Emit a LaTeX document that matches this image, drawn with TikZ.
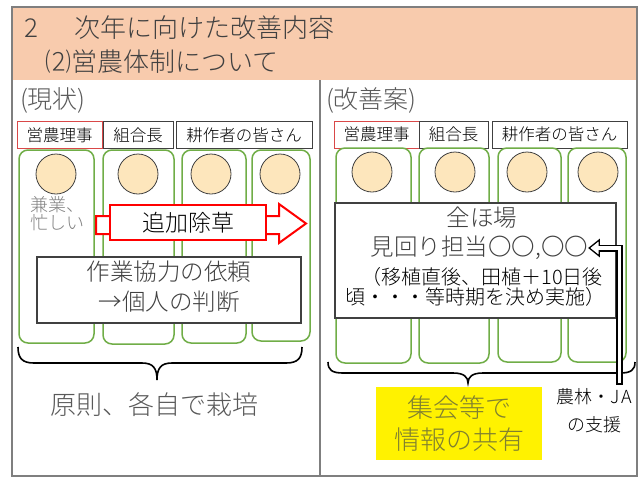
\documentclass[tikz,border=0pt]{standalone}
\usepackage{fontspec}
\setmainfont{Noto Sans CJK JP Light}
\usetikzlibrary{arrows.meta,calc}
\definecolor{hdr}{HTML}{F8CBAD}
\definecolor{framegray}{HTML}{7F7F7F}
\definecolor{hdrtext}{HTML}{404040}
\definecolor{grayfive}{HTML}{595959}
\definecolor{grayeight}{HTML}{808080}
\definecolor{colgreen}{HTML}{70AD47}
\definecolor{circfill}{HTML}{FDE6BC}
\definecolor{tagred}{HTML}{D94848}
\definecolor{boxdark}{HTML}{404040}
\definecolor{olivetext}{HTML}{808030}
\newcommand\setfs[2]{\fontsize{#1}{#2}\selectfont}
\begin{document}
\begin{tikzpicture}[x=1pt,y=-1pt,
  every node/.style={inner sep=0pt, outer sep=0pt},
  frame/.style={draw=framegray, line width=1.5pt},
  tagbox/.style={draw=boxdark, line width=1pt, fill=white, minimum height=27pt, font=\setfs{16.5}{20}},
  tagredbox/.style={tagbox, draw=tagred},
  col/.style={draw=colgreen, line width=1.5pt, rounded corners=9pt},
  person/.style={circle, draw=boxdark, line width=0.8pt, fill=circfill, minimum size=40pt},
  textbox/.style={draw=boxdark, line width=1.3pt, fill=white},
  bracepath/.style={draw=black, line width=1.6pt},
  redarrow/.style={draw=red, line width=2pt, fill=white, line join=miter}
]
\useasboundingbox (0,0) rectangle (642,477);
% header and frame
\fill[hdr] (12,7) rectangle (637,80);
\draw[framegray, line width=1.2pt] (320,80) -- (320,476);
\draw[frame] (12,7) rectangle (637,476);
\node[anchor=west, font=\setfs{26}{31}, text=hdrtext] (title1) at (24,28) {2\hspace{37pt}次年に向けた改善内容};
\node[anchor=west, font=\setfs{26}{31}, text=hdrtext] (title2) at (45,62) {⑵営農体制について};
\node[anchor=west, font=\setfs{25}{30}, text=grayfive] (genjo) at (20,100) {(現状)};
\node[anchor=west, font=\setfs{25}{30}, text=grayfive] (kaizen) at (326,100) {(改善案)};
% ---------- left: current state ----------
\node[tagredbox, minimum width=85pt] (lt1) at (59.5,135) {営農理事};
\node[tagbox, minimum width=70pt] (lt2) at (138,135) {組合長};
\node[tagbox, minimum width=136pt] (lt3) at (244,135) {耕作者の皆さん};
\draw[col] (19,150) rectangle (94,343);
\draw[col] (103,150) rectangle (174,344);
\draw[col] (182,150) rectangle (246,343);
\draw[col] (252,150) rectangle (310,341);
\node[person] (lp1) at (56,174) {};
\node[person] (lp2) at (138,174) {};
\node[person] (lp3) at (211,174) {};
\node[person] (lp4) at (280,174) {};
\node[align=left, font=\setfs{18}{18}, text=grayeight] (kengyo) at (57,214) {兼業、\\忙しい};
\draw[redarrow] (96,216) -- (279,216) -- (279,204) -- (306,223.5) -- (279,243) -- (279,234) -- (96,234) -- cycle;
\node[draw=red, line width=1.2pt, fill=white, minimum width=156pt, minimum height=35pt, font=\setfs{23}{28}] (tsuika) at (188,222.5) {追加除草};
\node[textbox, minimum width=264pt, minimum height=66pt] (kyoryoku) at (169,290) {};
\node[align=center, font=\setfs{23.5}{30}, text=hdrtext] (kyoryokutext) at (169,287) {作業協力の依頼\\→個人の判断};
\draw[bracepath] (18,347) .. controls (18,358) and (22,363) .. (34,363) -- (142,363)
  .. controls (153,363) and (157,368) .. (157,380)
  .. controls (157,368) and (161,363) .. (172,363) -- (286,363)
  .. controls (298,363) and (302,358) .. (302,347);
\node[font=\setfs{26}{31}, text=grayfive] (gensoku) at (154,405) {原則、各自で栽培};
% ---------- right: proposal ----------
\node[tagredbox, minimum width=85pt] (rt1) at (376.5,134.5) {営農理事};
\node[tagbox, minimum width=69pt] (rt2) at (453.5,134.5) {組合長};
\node[tagbox, minimum width=135pt] (rt3) at (559.5,134.5) {耕作者の皆さん};
\draw[col] (336,148) rectangle (411,363);
\draw[col] (419,148) rectangle (489,363);
\draw[col] (498,148) rectangle (561,362);
\draw[col] (568,148) rectangle (626,362);
\node[person] (rp1) at (372,172) {};
\node[person] (rp2) at (455,172) {};
\node[person] (rp3) at (527,172) {};
\node[person] (rp4) at (598,172) {};
\node[textbox, minimum width=281pt, minimum height=115pt] (plan) at (475.5,260.5) {};
\node[font=\setfs{23.5}{28}, text=hdrtext] (zenpo) at (482,218) {全ほ場};
\node[font=\setfs{23.5}{28}, text=hdrtext] (mimawari) at (479.5,248) {見回り担当〇〇,〇〇};
\node[font=\setfs{20}{24}, text=black] (jiki1) at (482,277) {（移植直後、田植＋10日後};
\node[font=\setfs{20}{24}, text=black] (jiki2) at (475,297) {頃・・・等時期を決め実施）};
\draw[bracepath] (328,362) .. controls (328,370) and (332,373) .. (343,373) -- (453,373)
  .. controls (464,373) and (468,377) .. (468,383)
  .. controls (468,377) and (472,373) .. (483,373) -- (620,373)
  .. controls (631,373) and (635,370) .. (635,362);
\node[fill=yellow, minimum width=166pt, minimum height=73pt, align=center,
      font=\setfs{26}{32}, text=olivetext] (share) at (459,423.5) {集会等で\\情報の共有};
\node[align=center, font=\setfs{18}{28}, text=black] (ja) at (594,411) {農林・J\hspace{2pt}A\\の支援};
% JA support arrow (double-lined)
\coordinate (jafoot) at (619.5,385);
\coordinate (headbase) at ($(mimawari.east)+(11,0)$);
\draw[black, line width=7pt, line join=miter] (jafoot) |- (headbase);
\draw[black, line width=1.3pt, fill=white, line join=miter] ($(mimawari.east)+(1,0)$) -- ($(headbase)+(0,-8)$) -- ($(headbase)+(0,8)$) -- cycle;
\draw[white, line width=3.6pt, line join=miter] ($(jafoot)+(0,-1.8)$) |- ($(headbase)+(-2,0)$);
\end{tikzpicture}
\end{document}
